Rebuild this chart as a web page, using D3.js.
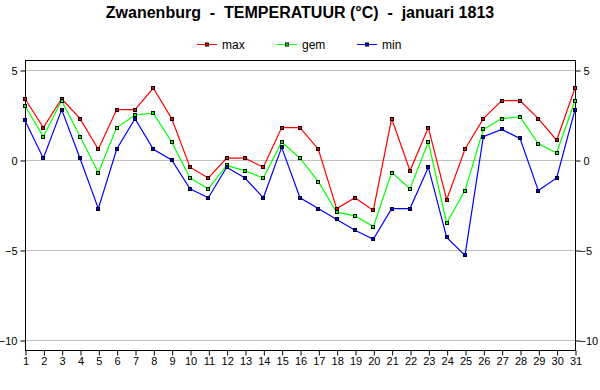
<!DOCTYPE html>
<html><head><meta charset="utf-8">
<script src="https://cdn.jsdelivr.net/npm/d3@7"></script>
<style>body{margin:0;background:#fff}svg{display:block}</style>
</head><body>
<svg id="c" width="600" height="390"></svg>
<script>
const days = d3.range(1, 32);
const maxT = [3.4,1.8,3.4,2.3,0.6,2.8,2.8,4.0,2.3,-0.4,-1.0,0.1,0.1,-0.4,1.8,1.8,0.6,-2.7,-2.1,-2.8,2.3,-0.6,1.8,-2.2,0.6,2.3,3.3,3.3,2.3,1.1,4.0];
const gemT = [3.0,1.3,3.3,1.3,-0.7,1.8,2.5,2.6,1.0,-1.0,-1.6,-0.3,-0.6,-1.0,1.0,0.1,-1.2,-2.9,-3.1,-3.7,-0.7,-1.6,1.0,-3.5,-1.7,1.7,2.3,2.4,0.9,0.4,3.3];
const minT = [2.2,0.1,2.8,0.1,-2.7,0.6,2.3,0.6,0.0,-1.6,-2.1,-0.4,-1.0,-2.1,0.7,-2.1,-2.7,-3.3,-3.9,-4.4,-2.7,-2.7,-0.4,-4.3,-5.3,1.3,1.7,1.2,-1.7,-1.0,2.8];
const yTicks = [-10, -5, 0, 5];
const seriesNames = ["max", "gem", "min"];
const seriesColors = ["#ff0000", "#00ff00", "#0000ff"];
const title = "Zwanenburg  -  TEMPERATUUR (°C)  -  januari 1813";

const series = [maxT, gemT, minT].map((v, i) => ({name: seriesNames[i], color: seriesColors[i], values: v}));

const svg = d3.select("#c");
const font = "'Liberation Sans', Arial, sans-serif";
const L = 25, R = 575, T = 60, B = 350;
const x = d3.scaleLinear().domain([1, 31]).range([L, R]);
const y = d3.scaleLinear().domain([-10, 5]).range([340, 70]);

// title
svg.append("text").attr("x", 300).attr("y", 18).attr("text-anchor", "middle")
  .style("white-space", "pre").attr("xml:space", "preserve")
  .attr("font-family", font).attr("font-size", 16).attr("font-weight", "bold").text(title);

// legend
const legX = [197, 277, 357];
series.forEach((s, i) => {
  const g = svg.append("g").attr("transform", `translate(${legX[i]},44.5)`);
  g.append("line").attr("x1", 0).attr("x2", 20).attr("stroke", s.color).attr("stroke-width", 1);
  g.append("rect").attr("x", 8.5).attr("y", -1.5).attr("width", 3).attr("height", 3)
    .attr("fill", s.color).attr("stroke", "#000").attr("stroke-width", 1);
  g.append("text").attr("x", 25).attr("y", 4.5).attr("font-family", font).attr("font-size", 12).text(s.name);
});

// grid
svg.append("g").selectAll("line").data(yTicks).join("line")
  .attr("x1", L).attr("x2", R).attr("y1", d => Math.round(y(d)) + 0.5).attr("y2", d => Math.round(y(d)) + 0.5)
  .attr("stroke", "#c0c0c0").attr("stroke-width", 1);

// box
svg.append("rect").attr("x", L + 0.5).attr("y", T + 0.5).attr("width", R - L).attr("height", B - T)
  .attr("fill", "none").attr("stroke", "#000").attr("stroke-width", 1);

function styleAxis(g) {
  g.selectAll(".domain").remove();
  g.selectAll("line").attr("stroke", "#000");
  g.selectAll("text").attr("font-family", font).attr("font-size", 11).attr("fill", "#000");
}
const yc = d3.scaleLinear().domain([-10, 5]).range([340.5, 70.5]);
svg.append("g").attr("transform", `translate(${L + 0.5},0)`)
  .call(d3.axisLeft(yc).tickValues(yTicks).tickSize(5).tickPadding(3).tickFormat(d3.format("d")))
  .call(styleAxis);
svg.append("g").attr("transform", `translate(${R + 0.5},0)`)
  .call(d3.axisRight(yc).tickValues(yTicks).tickSize(5).tickPadding(3).tickFormat(d3.format("d")))
  .call(styleAxis)
  .call(g => g.selectAll("text").attr("dx", d => d < 0 ? -4 : 0));
const xc = d3.scaleLinear().domain([1, 31]).range([L + 0.5, R + 0.5]);
svg.append("g").attr("transform", `translate(0,${B + 0.5})`)
  .call(d3.axisBottom(xc).tickValues(days).tickSize(5).tickPadding(2).tickFormat(d3.format("d")))
  .call(styleAxis);

// lines
const line = d3.line().x((d, i) => x(days[i])).y(d => y(d));
series.forEach(s => {
  svg.append("path").datum(s.values).attr("d", line).attr("fill", "none")
    .attr("stroke", s.color).attr("stroke-width", 1.2);
});
series.forEach(s => {
  svg.append("g").selectAll("rect").data(s.values).join("rect")
    .attr("x", (d, i) => Math.round(x(days[i])) - 1.5).attr("y", d => Math.round(y(d)) - 1.5)
    .attr("width", 3).attr("height", 3)
    .attr("fill", s.color).attr("stroke", "#000").attr("stroke-width", 1);
});
</script>
</body></html>
